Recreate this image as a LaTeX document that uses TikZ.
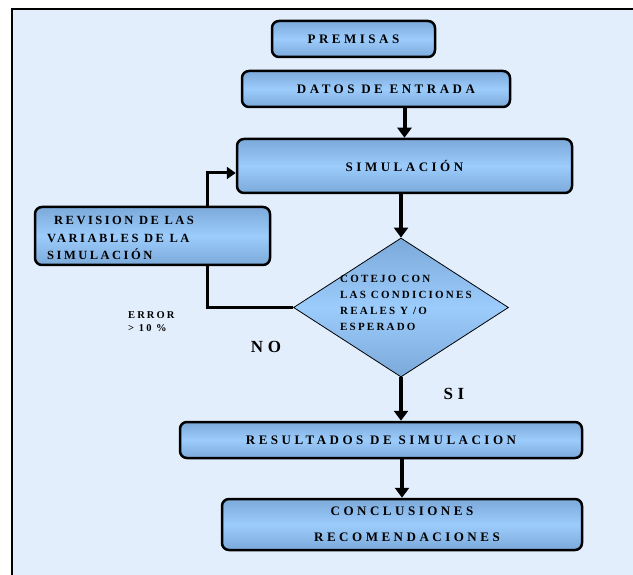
\documentclass[tikz,border=0pt]{standalone}
\usepackage{fontspec}
\setmainfont{Liberation Serif}
\newfontfamily\espaciado[LetterSpace=27]{Liberation Serif}
\newfontfamily\espaciadochico[LetterSpace=20]{Liberation Serif}
\usetikzlibrary{positioning,arrows.meta,shapes.geometric}
\definecolor{fondo}{HTML}{E2EEFC}
\definecolor{azulclaro}{HTML}{9CCCFC}
\definecolor{azulosc}{HTML}{7BA9DA}

\begin{document}
\begin{tikzpicture}[
  x=1pt, y=-1pt,
  caja/.style={draw, line width=2.5pt, rounded corners=7pt,
               top color=azulosc, bottom color=azulosc, middle color=azulclaro,
               inner sep=0pt, align=center, font=\espaciado\bfseries\fontsize{13}{14}\selectfont},
  rombo/.style={diamond, draw, line width=0.8pt, inner sep=0pt,
                top color=azulosc, bottom color=azulosc, middle color=azulclaro},
  txt/.style={align=left, inner sep=0pt, font=\espaciadochico\bfseries\fontsize{11}{16}\selectfont},
  flecha/.style={-{Triangle[length=10pt,width=14pt]}, line width=4pt},
  retorno/.style={-{Triangle[length=9pt,width=12pt]}, line width=3pt}
]
\useasboundingbox (0,0) rectangle (633,575);
\fill[fondo] (12,9) rectangle (633,575);
\draw[line width=2.5pt] (12,576) -- (12,9) -- (634,9);

% cajas principales
\node[caja, minimum width=163pt, minimum height=36pt] (premisas) at (353.5,39) {PREMISAS};
\node[caja, minimum width=268pt, minimum height=36pt] (datos) at (376,89) {\hspace*{20pt}DATOS DE ENTRADA};
\node[caja, minimum width=335pt, minimum height=54pt] (sim) at (404.5,166) {SIMULACIÓN};
\node[rombo, minimum width=215pt, minimum height=139pt] (cotejo) at (401,307.5) {};
\node[txt, anchor=west] (cotejotxt) at (340,303) {COTEJO CON\\LAS CONDICIONES\\REALES Y /O\\ESPERADO};
\node[caja, minimum width=402pt, minimum height=36pt] (resultados) at (381,440) {RESULTADOS DE SIMULACION};
\node[caja, minimum width=360pt, minimum height=51pt, font=\espaciado\bfseries\fontsize{13}{26}\selectfont]
  (conclusiones) at (402,524.5) {CONCLUSIONES\\\hspace*{10pt}RECOMENDACIONES};

% lazo de error
\coordinate (codo) at (207,173);
\draw[retorno] (cotejo.west) -| (codo) -- (codo -| sim.west);
\node[caja, minimum width=235pt, minimum height=58pt] (revision) at (152.5,236) {};
\node[txt, anchor=west, font=\espaciadochico\bfseries\fontsize{12.5}{17.5}\selectfont]
  (revisiontxt) at (47,238) {\hspace*{7pt}REVISION DE LAS\\VARIABLES DE LA\\SIMULACIÓN};

% flechas
\draw[flecha] (datos.south -| sim.north) -- (sim.north);
\draw[flecha] (sim.south -| cotejo.north) -- (cotejo.north);
\draw[flecha] (cotejo.south) -- (cotejo.south |- resultados.north);
\draw[flecha] (resultados.south -| conclusiones.north) -- (conclusiones.north);

% etiquetas
\node[txt, anchor=north west, font=\espaciadochico\bfseries\fontsize{10.5}{13}\selectfont]
  (error) at (128,311) {ERROR\\> 10 \%};
\node[font=\espaciado\bfseries\fontsize{17}{18}\selectfont] (no) at (266,347) {NO};
\node[font=\espaciado\bfseries\fontsize{17}{18}\selectfont] (si) at (454,394) {SI};
\end{tikzpicture}
\end{document}
